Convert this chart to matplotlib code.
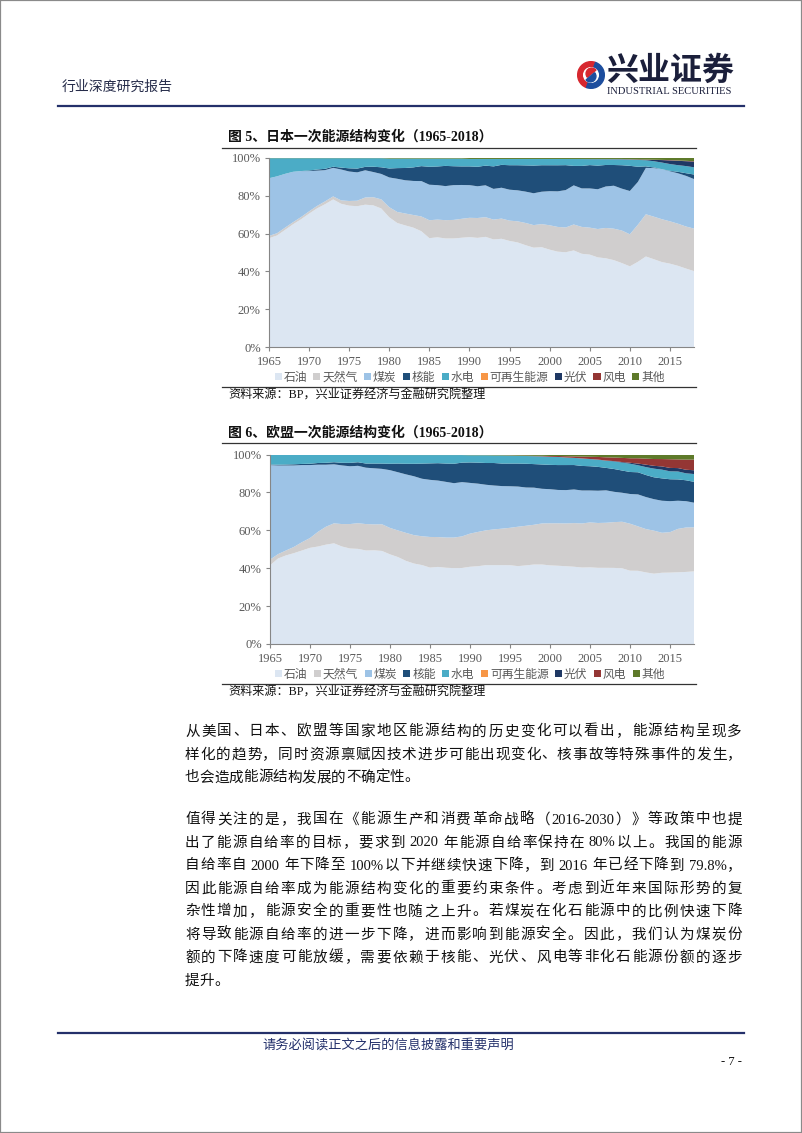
import re

import matplotlib

matplotlib.use("Agg")
import matplotlib.pyplot as plt
import numpy as np
from matplotlib.lines import Line2D
from matplotlib.patches import Circle, Patch, Rectangle, Wedge

W, H = 802, 1133
plt.rcParams["font.family"] = ["Liberation Serif", "Noto Sans CJK SC"]

years = np.arange(1965, 2019)
series_names = ["石油", "天然气", "煤炭", "核能", "水电", "可再生能源", "光伏", "风电", "其他"]
series_colors = ["#DCE6F2", "#D0CECE", "#9DC3E6", "#1F4E79", "#4BACC6",
                 "#F79646", "#1F3864", "#943634", "#5E7A2A"]

# Japan, share of primary energy (%), 1965-2018
jp_oil = [57.5, 59.0, 62.0, 65.0, 67.5, 70.5, 73.5, 75.5, 78.0, 76.0,
          75.3, 74.5, 75.3, 74.8, 73.0, 68.0, 65.0, 63.3, 62.4, 61.2,
          57.0, 57.0, 56.4, 56.8, 57.1, 57.5, 57.1, 57.7, 56.4, 56.8,
          55.9, 55.0, 53.6, 52.4, 52.4, 51.1, 50.1, 49.4, 50.6, 48.9,
          48.3, 47.1, 46.2, 45.3, 44.1, 42.3, 44.8, 47.6, 46.2, 44.8,
          44.1, 43.0, 41.8, 40.0]
jp_gas = [1.2, 1.2, 1.2, 1.1, 1.2, 1.2, 1.3, 1.5, 1.6, 1.8,
          2.5, 2.9, 3.8, 4.3, 4.8, 5.3, 5.8, 6.2, 6.6, 7.8,
          9.4, 9.2, 9.5, 9.7, 9.9, 10.1, 10.4, 10.3, 10.4, 10.6,
          10.7, 11.1, 11.7, 11.9, 12.1, 12.8, 13.0, 12.9, 13.6, 14.1,
          14.1, 14.9, 15.8, 16.4, 17.1, 16.8, 19.5, 22.2, 22.4, 22.6,
          22.4, 22.3, 22.4, 22.4]
jp_coal = [30.5, 30.1, 28.5, 26.7, 24.3, 21.3, 18.7, 16.5, 15.1, 16.4,
           15.7, 15.0, 14.4, 13.3, 13.4, 15.6, 17.4, 17.3, 17.8, 18.7,
           18.6, 17.9, 17.7, 18.2, 17.7, 17.1, 16.6, 16.7, 16.1, 16.2,
           16.3, 16.3, 16.5, 16.8, 17.0, 17.9, 18.7, 19.5, 20.5, 20.2,
           20.5, 20.9, 21.6, 22.4, 22.0, 22.7, 22.5, 24.4, 25.6, 26.4,
           26.5, 26.7, 27.0, 26.1]
jp_nuclear = [0.0, 0.0, 0.0, 0.0, 0.0, 0.3, 0.6, 0.7, 0.6, 1.0,
              1.7, 2.0, 1.8, 2.8, 3.5, 4.7, 5.6, 6.4, 7.1, 7.9,
              9.4, 9.7, 10.5, 9.9, 9.7, 9.8, 10.2, 10.3, 11.8, 12.0,
              12.9, 13.2, 13.8, 14.6, 13.9, 13.6, 13.7, 13.0, 10.2, 11.8,
              12.2, 12.4, 11.2, 10.8, 12.3, 13.2, 8.0, 0.8, 0.3, 0.0,
              0.2, 0.8, 1.4, 2.4]
jp_hydro = [10.6, 9.6, 8.3, 7.2, 6.8, 6.5, 6.0, 5.6, 4.5, 5.0,
            5.4, 5.5, 4.6, 4.5, 4.8, 5.2, 5.0, 4.9, 4.6, 4.0,
            4.3, 4.1, 3.8, 4.0, 4.1, 3.9, 4.1, 3.5, 3.9, 3.1,
            3.3, 3.3, 3.4, 3.5, 3.3, 3.3, 3.3, 3.2, 3.6, 3.6,
            3.1, 3.4, 3.0, 3.0, 3.1, 3.3, 3.6, 3.2, 3.3, 3.5,
            3.6, 3.5, 3.8, 3.8]
jp_renew = [0, 0, 0, 0, 0, 0, 0, 0, 0, 0,
            0, 0, 0, 0, 0, 0, 0, 0, 0, 0,
            0, 0, 0, 0, 0, 0, 0, 0, 0, 0,
            0, 0, 0, 0, 0, 0, 0, 0, 0, 0,
            0, 0, 0, 0, 0, 0, 0, 0, 0, 0,
            0, 0, 0, 0]
jp_solar = [0, 0, 0, 0, 0, 0, 0, 0, 0, 0,
            0, 0, 0, 0, 0, 0, 0, 0, 0, 0,
            0, 0, 0, 0, 0, 0, 0, 0, 0, 0,
            0, 0, 0, 0, 0, 0, 0, 0, 0, 0,
            0.05, 0.05, 0.05, 0.05, 0.1, 0.1, 0.2, 0.3, 0.7, 1.3,
            1.9, 2.3, 2.6, 3.0]
jp_wind = [0, 0, 0, 0, 0, 0, 0, 0, 0, 0,
           0, 0, 0, 0, 0, 0, 0, 0, 0, 0,
           0, 0, 0, 0, 0, 0, 0, 0, 0, 0,
           0, 0, 0, 0, 0, 0.01, 0.02, 0.03, 0.04, 0.05,
           0.06, 0.07, 0.08, 0.1, 0.1, 0.1, 0.1, 0.1, 0.1, 0.1,
           0.2, 0.2, 0.2, 0.2]
jp_other = [0.1, 0.1, 0.1, 0.1, 0.1, 0.1, 0.1, 0.1, 0.1, 0.1,
            0.1, 0.1, 0.1, 0.1, 0.1, 0.3, 0.3, 0.3, 0.3, 0.3,
            0.3, 0.3, 0.3, 0.3, 0.3, 0.5, 0.5, 0.5, 0.5, 0.5,
            0.5, 0.5, 0.5, 0.5, 0.5, 0.5, 0.5, 0.5, 0.5, 0.5,
            0.5, 0.5, 0.5, 0.5, 0.5, 0.6, 0.7, 0.8, 0.9, 1.0,
            1.1, 1.3, 1.5, 1.7]

# EU, share of primary energy (%), 1965-2018
eu_oil = [41.5, 45.2, 46.9, 48.2, 49.6, 51.0, 51.7, 52.7, 53.4, 51.7,
          50.4, 50.4, 49.6, 49.6, 49.2, 47.5, 46.0, 43.9, 42.5, 41.7,
          40.4, 40.8, 40.4, 40.2, 40.2, 40.8, 41.1, 41.7, 41.7, 41.7,
          41.7, 41.3, 41.7, 42.2, 42.2, 41.7, 41.5, 41.3, 41.1, 40.8,
          40.8, 40.6, 40.4, 40.4, 40.2, 39.0, 38.7, 38.0, 37.3, 37.6,
          37.8, 38.0, 38.3, 38.3]
eu_gas = [3.0, 2.3, 2.6, 3.3, 4.4, 5.2, 7.8, 9.5, 10.6, 11.9,
          12.9, 13.6, 14.0, 13.7, 14.1, 14.0, 14.1, 14.8, 15.0, 15.2,
          16.2, 15.8, 16.0, 16.2, 16.7, 17.5, 18.1, 18.4, 18.9, 19.3,
          19.8, 20.9, 21.0, 21.1, 21.8, 22.3, 22.5, 22.7, 23.2, 23.5,
          23.9, 23.9, 23.9, 24.3, 24.7, 25.0, 23.5, 23.0, 22.8, 21.1,
          21.4, 23.0, 23.6, 23.2]
eu_coal = [49.9, 46.9, 45.0, 43.2, 40.9, 38.7, 35.6, 32.9, 31.3, 31.1,
           30.5, 30.4, 29.9, 29.7, 29.3, 30.6, 30.8, 30.9, 31.1, 30.4,
           30.2, 29.9, 29.5, 28.8, 28.7, 26.8, 25.5, 24.1, 23.2, 22.5,
           22.0, 21.3, 20.3, 19.7, 18.4, 18.1, 17.7, 17.7, 17.9, 17.6,
           17.0, 17.2, 17.2, 16.1, 15.4, 15.8, 16.9, 17.0, 16.7, 16.9,
           16.4, 14.9, 14.0, 13.0]
eu_nuclear = [0.3, 0.4, 0.5, 0.6, 0.6, 0.7, 0.9, 1.0, 1.1, 1.4,
              1.8, 1.9, 2.2, 2.5, 2.8, 3.4, 4.6, 5.6, 6.6, 8.0,
              8.7, 9.2, 9.7, 10.3, 10.3, 10.8, 11.1, 11.5, 11.9, 11.9,
              12.0, 12.2, 12.6, 12.5, 12.9, 12.9, 13.2, 13.3, 13.0, 13.1,
              12.9, 12.7, 11.9, 12.1, 11.8, 11.7, 11.7, 11.7, 11.6, 11.8,
              11.6, 11.3, 11.1, 11.0]
eu_hydro = [5.1, 5.2, 5.1, 5.0, 4.8, 4.7, 4.3, 4.2, 3.9, 4.2,
            4.2, 3.9, 4.6, 4.6, 4.6, 4.6, 4.5, 4.6, 4.6, 4.5,
            4.4, 4.3, 4.5, 4.6, 4.0, 3.8, 3.9, 4.1, 4.0, 4.3,
            4.2, 4.1, 4.1, 4.2, 4.3, 4.3, 4.3, 4.0, 3.8, 4.0,
            3.8, 3.8, 3.8, 4.0, 4.2, 4.4, 3.7, 4.2, 4.6, 4.6,
            4.2, 4.2, 3.7, 4.1]
eu_renew = [0, 0, 0, 0, 0, 0, 0, 0, 0, 0,
            0, 0, 0, 0, 0, 0, 0, 0, 0, 0,
            0, 0, 0, 0, 0, 0, 0, 0, 0, 0,
            0, 0, 0, 0, 0, 0, 0, 0, 0, 0,
            0, 0, 0, 0, 0, 0, 0, 0, 0, 0,
            0, 0, 0, 0]
eu_solar = [0, 0, 0, 0, 0, 0, 0, 0, 0, 0,
            0, 0, 0, 0, 0, 0, 0, 0, 0, 0,
            0, 0, 0, 0, 0, 0, 0, 0, 0, 0,
            0, 0, 0, 0, 0, 0, 0, 0, 0, 0,
            0.05, 0.1, 0.1, 0.2, 0.3, 0.5, 0.9, 1.3, 1.5, 1.7,
            1.8, 1.8, 1.9, 2.0]
eu_wind = [0, 0, 0, 0, 0, 0, 0, 0, 0, 0,
           0, 0, 0, 0, 0, 0, 0, 0, 0, 0,
           0, 0, 0, 0, 0, 0, 0, 0, 0, 0,
           0.1, 0.1, 0.2, 0.2, 0.3, 0.4, 0.5, 0.7, 0.8, 1.0,
           1.2, 1.4, 1.7, 1.9, 2.2, 2.4, 2.8, 3.2, 3.6, 3.9,
           4.6, 4.6, 5.4, 5.6]
eu_other = [0.2, 0.2, 0.2, 0.2, 0.2, 0.2, 0.2, 0.2, 0.2, 0.2,
            0.2, 0.2, 0.2, 0.2, 0.2, 0.3, 0.3, 0.3, 0.3, 0.3,
            0.3, 0.3, 0.3, 0.3, 0.3, 0.4, 0.4, 0.4, 0.5, 0.5,
            0.5, 0.6, 0.6, 0.7, 0.7, 0.8, 0.8, 0.9, 1.0, 1.1,
            1.2, 1.3, 1.5, 1.6, 1.8, 2.0, 2.0, 2.2, 2.4, 2.4,
            2.5, 2.6, 2.7, 2.7]

year_ticks = [1965, 1970, 1975, 1980, 1985, 1990, 1995, 2000, 2005, 2010, 2015]
pct_ticks = [0, 20, 40, 60, 80, 100]

paragraph_1 = [
    "从美国、日本、欧盟等国家地区能源结构的历史变化可以看出，能源结构呈现多",
    "样化的趋势，同时资源禀赋因技术进步可能出现变化、核事故等特殊事件的发生，",
    "也会造成能源结构发展的不确定性。",
]
paragraph_2 = [
    "值得关注的是，我国在《能源生产和消费革命战略（2016-2030）》等政策中也提",
    "出了能源自给率的目标，要求到 2020 年能源自给率保持在 80%以上。我国的能源",
    "自给率自 2000 年下降至 100%以下并继续快速下降，到 2016 年已经下降到 79.8%，",
    "因此能源自给率成为能源结构变化的重要约束条件。考虑到近年来国际形势的复",
    "杂性增加，能源安全的重要性也随之上升。若煤炭在化石能源中的比例快速下降",
    "将导致能源自给率的进一步下降，进而影响到能源安全。因此，我们认为煤炭份",
    "额的下降速度可能放缓，需要依赖于核能、光伏、风电等非化石能源份额的逐步",
    "提升。",
]

NAVY = "#24306A"
TICK = "#595959"


def fx(x):
    return x / W


def fy(y):
    return 1 - y / H


def hline(fig, x0, x1, y, color, lw):
    fig.add_artist(Line2D([fx(x0), fx(x1)], [fy(y), fy(y)], color=color, linewidth=lw))


def area_chart(ax, layers):
    values = np.array(layers, dtype=float)
    shares = values / values.sum(axis=0) * 100.0  # 100% stacked area
    ax.stackplot(years, shares, colors=series_colors, linewidth=0)
    ax.set_xlim(1965, 2018)
    ax.set_ylim(0, 100)
    ax.set_xticks(year_ticks)
    ax.set_yticks(pct_ticks)
    ax.set_yticklabels([f"{v}%" for v in pct_ticks])
    ax.tick_params(colors="#868686", labelcolor=TICK, labelsize=9, length=3, width=0.8, pad=3)
    ax.tick_params(axis="x", pad=3.5)
    for side in ("top", "right"):
        ax.spines[side].set_visible(False)
    for side in ("left", "bottom"):
        ax.spines[side].set_color("#868686")
        ax.spines[side].set_linewidth(0.8)
    handles = [Patch(facecolor=c, edgecolor="none", label=n) for n, c in zip(series_names, series_colors)]
    leg = ax.legend(handles=handles, ncol=9, loc="center", bbox_to_anchor=(0.472, -0.162),
                    frameon=False, fontsize=8.5, handlelength=0.6, handleheight=0.6,
                    handletextpad=0.15, columnspacing=0.55, borderaxespad=0)
    for t in leg.get_texts():
        t.set_color(TICK)


def body_line(fig, renderer, text, x0, x1, yc, justify):
    tokens = re.findall(r"\s*[!-~]+\s*|.", text)
    items, widths = [], []
    for tok in tokens:
        core = tok.strip()
        lead = (len(tok) - len(tok.lstrip())) * 3.6
        trail = (len(tok) - len(tok.rstrip())) * 3.6
        t = fig.text(0, 0, core, fontsize=10.5, va="baseline", ha="left", color="#111111")
        items.append((t, lead))
        widths.append(t.get_window_extent(renderer).width + lead + trail)
    gap = (x1 - x0 - sum(widths)) / (len(tokens) - 1) if justify and len(tokens) > 1 else 0.0
    x = x0
    for (t, lead), w in zip(items, widths):
        t.set_position((fx(x + lead), fy(yc + 5.5)))
        x += w + gap


def main():
    fig = plt.figure(figsize=(W / 100, H / 100), dpi=100)
    fig.patch.set_facecolor("white")
    fig.patches.append(Rectangle((0, 0), 1, 1, transform=fig.transFigure, fill=False,
                                 edgecolor="#8A8A8A", linewidth=1.6))

    # header
    fig.text(fx(62), fy(87), "行业深度研究报告", fontsize=10, color="#262C4A", va="center", ha="left")
    logo = fig.add_axes([fx(577), fy(89), 28 / W, 28 / H])
    logo.set_xlim(-1.05, 1.05)
    logo.set_ylim(-1.05, 1.05)
    logo.set_aspect("equal")
    logo.axis("off")
    logo.add_patch(Wedge((0, 0), 1.0, 70, 250, color="#D7282F"))
    logo.add_patch(Wedge((0, 0), 1.0, 250, 430, color="#1D4E9E"))
    logo.add_patch(Circle((0, 0), 0.55, color="white"))
    logo.add_patch(Wedge((0.05, 0.1), 0.42, 40, 220, color="#D7282F"))
    logo.add_patch(Wedge((-0.05, -0.1), 0.42, 220, 400, color="#1D4E9E"))
    fig.text(fx(606), fy(72), "兴业证券", fontsize=23, fontweight="bold", color="#1B1F3B",
             va="center", ha="left")
    fig.text(fx(607), fy(92), "INDUSTRIAL SECURITIES", fontsize=7.6, color="#1B1F3B",
             va="center", ha="left")
    hline(fig, 58, 744, 106, NAVY, 1.6)

    # figure 5
    fig.text(fx(228), fy(137), "图 5、日本一次能源结构变化（1965-2018）", fontsize=10,
             fontweight="bold", va="center", ha="left", color="#111111")
    hline(fig, 222, 696, 148, "#333333", 0.9)
    ax1 = fig.add_axes([fx(269), fy(347), 425 / W, 189 / H])
    area_chart(ax1, [jp_oil, jp_gas, jp_coal, jp_nuclear, jp_hydro,
                     jp_renew, jp_solar, jp_wind, jp_other])
    hline(fig, 222, 696, 387, "#333333", 0.9)
    fig.text(fx(228), fy(396), "资料来源：BP，兴业证券经济与金融研究院整理", fontsize=8.7,
             va="center", ha="left", color="#111111")

    # figure 6
    fig.text(fx(228), fy(433), "图 6、欧盟一次能源结构变化（1965-2018）", fontsize=10,
             fontweight="bold", va="center", ha="left", color="#111111")
    hline(fig, 222, 696, 443, "#333333", 0.9)
    ax2 = fig.add_axes([fx(270), fy(644), 424 / W, 189.5 / H])
    area_chart(ax2, [eu_oil, eu_gas, eu_coal, eu_nuclear, eu_hydro,
                     eu_renew, eu_solar, eu_wind, eu_other])
    hline(fig, 222, 696, 684, "#333333", 0.9)
    fig.text(fx(228), fy(693), "资料来源：BP，兴业证券经济与金融研究院整理", fontsize=8.7,
             va="center", ha="left", color="#111111")

    # body text
    renderer = fig.canvas.get_renderer()
    for i, line in enumerate(paragraph_1):
        body_line(fig, renderer, line, 185, 742, 730 + 23 * i, i < len(paragraph_1) - 1)
    for i, line in enumerate(paragraph_2):
        body_line(fig, renderer, line, 185, 742, 818 + 23 * i, i < len(paragraph_2) - 1)

    # footer
    hline(fig, 58, 744, 1033, NAVY, 1.6)
    fig.text(fx(388), fy(1046), "请务必阅读正文之后的信息披露和重要声明", fontsize=9.5,
             color="#23306B", va="center", ha="center")
    fig.text(fx(742), fy(1062), "- 7 -", fontsize=9, color="#111111", va="center", ha="right")

    fig.savefig("out.png", dpi=100, facecolor="white")
    plt.close(fig)


if __name__ == "__main__":
    main()
